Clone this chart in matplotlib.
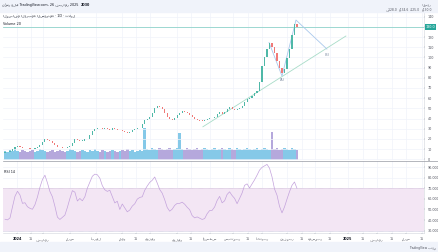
import matplotlib
matplotlib.use("Agg")
import matplotlib.pyplot as plt
from matplotlib.patches import Rectangle
from matplotlib.lines import Line2D
from matplotlib.text import Annotation
import numpy as np

# ---------------- data ----------------
closes = [7.0, 7.4, 7.8, 10.5, 11.8, 12.6, 12.0, 11.4, 11.0, 10.6,
          10.2, 10.0, 10.8, 12.2, 14.0, 16.8, 19.8, 19.0, 17.5, 15.6,
          13.8, 12.4, 11.6, 11.2, 11.0, 11.8, 12.6, 15.8, 19.6, 19.0,
          18.0, 18.4, 19.6, 20.4, 23.5, 28.0, 29.6, 30.8, 30.4, 29.8,
          31.0, 30.2, 29.0, 30.4, 29.6, 28.4, 28.8, 27.8, 26.6, 25.6,
          26.8, 28.6, 29.6, 30.4, 31.2, 35.0, 38.4, 40.0, 41.6, 45.6,
          50.2, 52.6, 51.2, 49.6, 45.4, 41.4, 39.6, 38.8, 41.0, 43.2,
          45.8, 47.2, 46.0, 45.6, 43.4, 41.6, 39.8, 38.6, 38.0, 37.6,
          38.4, 39.6, 40.2, 41.0, 41.8, 44.0, 46.0, 44.2, 46.4, 49.8,
          51.6, 49.4, 48.2, 49.4, 50.2, 52.0, 56.4, 59.4, 60.0, 61.8,
          64.8, 66.6, 76.0, 92.0, 100.8, 108.6, 114.4, 110.6, 104.2, 96.8,
          89.8, 84.6, 88.2, 99.2, 108.0, 121.6, 133.2, 130.0]
first_open = 6.6
opens = [first_open] + closes[:-1]

volumes = [9, 8, 10, 9, 11, 9, 8, 10, 9, 8,
           9, 10, 8, 9, 11, 10, 9, 8, 9, 10,
           8, 9, 10, 9, 8, 9, 11, 10, 9, 8,
           9, 10, 9, 8, 10, 9, 11, 9, 8, 10,
           9, 8, 9, 10, 9, 8, 9, 10, 9, 11,
           9, 10, 8, 9, 10, 9, 32, 11, 10, 12,
           11, 10, 12, 11, 10, 11, 12, 10, 11, 12,
           27, 11, 10, 12, 11, 10, 11, 12, 10, 11,
           12, 11, 10, 11, 12, 10, 11, 12, 11, 10,
           12, 11, 10, 12, 11, 10, 11, 12, 11, 10,
           11, 12, 10, 11, 12, 11, 10, 28, 11, 12,
           10, 11, 12, 11, 10, 12, 11, 10]

rsi = [40.8, 40.2, 42.0, 52.5, 62.5, 67.2, 63.7, 55.8, 56.4, 52.6,
       51.1, 50.2, 54.5, 61.8, 71.0, 78.3, 82.4, 75.2, 67.0, 62.0,
       53.0, 42.8, 40.6, 42.6, 44.7, 52.0, 60.3, 67.8, 66.4, 58.0,
       60.4, 58.2, 62.0, 70.2, 75.8, 81.4, 83.4, 82.8, 79.6, 72.5,
       68.6, 67.1, 68.2, 62.2, 56.2, 57.8, 50.0, 55.2, 51.5, 47.8,
       49.5, 53.2, 55.4, 59.8, 61.4, 62.0, 68.2, 72.2, 75.6, 77.6,
       80.7, 75.0, 68.9, 65.4, 59.2, 51.9, 48.4, 50.3, 53.9, 55.8,
       55.8, 56.9, 55.0, 52.1, 49.8, 44.2, 42.1, 43.0, 41.8, 40.6,
       41.4, 46.0, 49.0, 49.2, 52.4, 58.5, 62.4, 56.3, 58.2, 64.2,
       66.7, 63.2, 60.5, 55.5, 60.4, 65.5, 72.8, 74.2, 70.3, 74.2,
       78.0, 82.4, 87.2, 89.8, 91.2, 92.6, 89.0, 80.8, 69.4, 63.5,
       53.0, 46.8, 52.4, 59.8, 66.8, 72.8, 76.0, 70.0]

# drawings (bar index, price)
zigzag_x = [105.8, 111.0, 116.6, 129.0]
zigzag_p = [114.6, 81.7, 136.7, 108.2]
trend_x = [79.3, 136.6]
trend_p = [31.9, 121.0]
wave_labels = ["(A)", "(B)"]
wave_label_x = [111.2, 129.0]
wave_label_p = [79.4, 104.4]
last_price = 130.0

price_ticks = [0, 10, 20, 30, 40, 50, 60, 70, 80, 90, 100, 110, 120, 130, 140]
rsi_ticks = [30, 40, 50, 60, 70, 80, 90]

date_ticks = [4.8, 10.4, 15.2, 26.0, 36.5, 46.9, 52.5, 58.1, 68.9, 74.5,
              82.1, 91.3, 97.4, 103.0, 113.0, 119.0, 124.2, 130.2, 137.4,
              143.4, 149.0, 155.0, 160.7, 167.1]
date_labels = ["2024", "15", "فبراير", "مارس", "أبريل", "مايو", "15", "يونيو",
               "يوليو", "15", "أغسطس", "سبتمبر", "15", "أكتوبر", "نوفمبر", "15",
               "ديسمبر", "15", "2025", "15", "فبراير", "15", "مارس", "15"]
bold_labels = ["2024", "2025"]

header_text = "نُشر على TradingView.com، 26 فبراير 2025"
header_symbol = "2030"
title_text = "المصافي العربية السعودية · 1D · تداول"
ohlc_labels = ["ف128.0", "ع134.6", "د125.0", "غ130.0"]

# ---------------- styling ----------------
W, H = 438, 252
fig = plt.figure(figsize=(W / 100, H / 100), dpi=100)
fig.patch.set_facecolor("white")
plt.rcParams["font.family"] = ["DejaVu Sans"]

def fx(px):
    return px / W

def fy(py):
    return 1 - py / H

BG = "#f0f3fa"
GRID = "#f0f3fa"
UP = "#4fb8a8"
DN = "#f07a78"
VUP = "#85c9e8"
VDN = "#b5a8dc"
FS = 2.4
TXT = "#131722"

fig.add_artist(Rectangle((0, fy(12)), 1, 12 / H, transform=fig.transFigure,
                         color=BG, zorder=0))
fig.add_artist(Rectangle((0, 0), 1, 10 / H, transform=fig.transFigure,
                         color=BG, zorder=0))

L, R = 3, 424
xmin, xmax = -0.8, 167.9

axv = fig.add_axes([fx(L), fy(160), (R - L) / W, (160 - 13) / H])
axv.set_zorder(1)
ax = fig.add_axes([fx(L), fy(160), (R - L) / W, (160 - 13) / H])
ax.set_zorder(2)
ax.patch.set_visible(False)
axr = fig.add_axes([fx(L), fy(233), (R - L) / W, (233 - 161) / H])

xs = np.arange(len(closes))
o = np.array(opens)
c = np.array(closes)
is_up = c >= o

axv.set_xlim(xmin, xmax)
axv.set_ylim(0, 147)
for t in date_ticks:
    axv.axvline(t, color=GRID, lw=0.5, zorder=0)
axv.bar(xs, volumes, width=1.0, color=np.where(is_up, VUP, VDN), linewidth=0, zorder=2)
axv.axis("off")

ax.set_xlim(xmin, xmax)
ax.set_ylim(-0.7, 143.6)
for p in price_ticks:
    ax.axhline(p, color=GRID, lw=0.5, zorder=0)
ax.bar(xs, np.maximum(np.abs(c - o), 0.5), bottom=np.minimum(o, c), width=0.45,
       color=np.where(is_up, UP, DN), linewidth=0, zorder=4)
ax.axhline(last_price, color="#8fd3cb", lw=0.6, zorder=3)
ax.plot(trend_x, trend_p, color="#a8dcc8", lw=0.6, zorder=3)
ax.plot(zigzag_x, zigzag_p, color="#a9c8ec", lw=0.6, zorder=3)
for s, xx, pp in zip(wave_labels, wave_label_x, wave_label_p):
    ax.text(xx, pp, s, fontsize=FS, color="#6a7b93", ha="center", va="top", zorder=5)

ax.yaxis.tick_right()
ax.set_yticks(price_ticks)
ax.set_yticklabels(["" if p == last_price else str(p) for p in price_ticks])
ax.tick_params(axis="y", labelsize=FS, colors="#50535e", length=1, width=0.3, pad=1.5)
ax.set_xticks([])
for s in ["top", "left", "bottom"]:
    ax.spines[s].set_visible(False)
ax.spines["right"].set_color("#d1d4dc")
ax.spines["right"].set_linewidth(0.4)
ax.text(1.004, last_price, f"{last_price:.1f}", transform=ax.get_yaxis_transform(),
        fontsize=FS, color="white", ha="left", va="center", zorder=10,
        bbox=dict(boxstyle="square,pad=0.25", fc="#26a69a", ec="none"), clip_on=False)

fig.text(fx(3), fy(15.7), title_text, fontsize=FS, color=TXT, ha="left", va="center")
fig.text(fx(3), fy(24), "Volume 20", fontsize=FS, color=TXT, ha="left", va="center")

fig.add_artist(Line2D([fx(L), fx(438)], [fy(160.5), fy(160.5)], transform=fig.transFigure,
                      color="#9598a1", lw=0.5))

axr.set_xlim(xmin, xmax)
axr.set_ylim(27.8, 95.8)
for t in date_ticks:
    axr.axvline(t, color=GRID, lw=0.5, zorder=0)
for p in rsi_ticks:
    axr.axhline(p, color=GRID, lw=0.5, zorder=0)
axr.axhspan(30, 70, color="#f3e6f4", lw=0, zorder=1)
axr.axhline(70, color="#b9a9c9", lw=0.4, ls=(0, (1, 1)), zorder=2)
axr.axhline(30, color="#b9a9c9", lw=0.4, ls=(0, (1, 1)), zorder=2)
axr.plot(xs, rsi, color="#c3a2dc", lw=0.5, zorder=3)
axr.yaxis.tick_right()
axr.set_yticks(rsi_ticks)
axr.set_yticklabels([f"{p:.3f}" for p in rsi_ticks])
axr.tick_params(axis="y", labelsize=FS, colors="#50535e", length=1, width=0.3, pad=1.5)
axr.set_xticks(date_ticks)
axr.set_xticklabels(date_labels)
axr.tick_params(axis="x", labelsize=FS, colors="#50535e", length=1, width=0.3, pad=2)
for lab in axr.get_xticklabels():
    if lab.get_text() in bold_labels:
        lab.set_fontweight("bold")
        lab.set_color(TXT)
for s in ["top", "left"]:
    axr.spines[s].set_visible(False)
axr.spines["right"].set_color("#d1d4dc")
axr.spines["right"].set_linewidth(0.4)
axr.spines["bottom"].set_color("#d1d4dc")
axr.spines["bottom"].set_linewidth(0.4)
fig.text(fx(4), fy(171.7), "RSI 14", fontsize=FS, color=TXT, ha="left", va="center")

hdr = fig.text(fx(2), fy(4.6), header_text, fontsize=FS, color=TXT, ha="left", va="center")
fig.add_artist(Annotation(header_symbol, xy=(1, 0.5), xycoords=hdr,
                          xytext=(1.5, 0), textcoords="offset points",
                          fontsize=FS, color=TXT, ha="left", va="center",
                          fontweight="bold"))
for s, px in zip(ohlc_labels, [392, 404, 415, 427]):
    fig.text(fx(px), fy(9.7), s, fontsize=FS * 0.9, color="#50535e", ha="center", va="center")
fig.text(fx(427), fy(4.6), "السعر", fontsize=FS * 0.9, color="#50535e", ha="center", va="center")
fig.text(fx(436), fy(247.5), "TradingView بدعم", fontsize=FS * 0.9, color="#50535e",
         ha="right", va="center")

fig.savefig("out.png", dpi=100, facecolor="white")
